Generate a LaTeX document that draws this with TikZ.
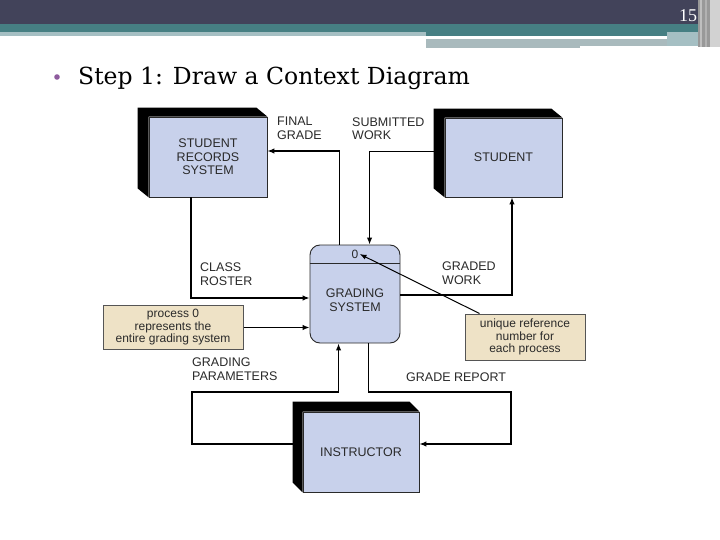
\documentclass[tikz,border=0pt]{standalone}
\usepackage{fontspec}
\setmainfont{Liberation Sans}
\newfontfamily\titlefont{DejaVu Serif}
\newfontfamily\numfont{Liberation Serif}
\usetikzlibrary{arrows.meta}
\definecolor{hdark}{HTML}{42435A}
\definecolor{hteal}{HTML}{467F83}
\definecolor{hlight}{HTML}{A5BFC3}
\definecolor{hgray}{HTML}{A9BABD}
\definecolor{boxfill}{HTML}{C8D1EB}
\definecolor{notefill}{HTML}{EEE2C6}
\definecolor{txt}{HTML}{2A2A2A}
\definecolor{bul}{HTML}{8E5B9E}
\tikzset{
  ebox/.style={draw=txt, line width=0.8pt, fill=boxfill, inner sep=0pt, align=center, text=txt,
    font=\fontsize{12.5}{13.5}\selectfont},
  proc/.style={draw=txt, line width=0.9pt, fill=boxfill, rounded corners=10pt, inner sep=0pt,
    minimum width=90pt, minimum height=98pt},
  note/.style={draw=txt!80, line width=1pt, fill=notefill, inner sep=0pt, align=center, text=txt,
    font=\fontsize{12}{12.5}\selectfont},
  lbl/.style={anchor=west, inner sep=0pt, align=left, text=txt, font=\fontsize{12.5}{13.5}\selectfont},
  arr/.style={draw=black, line width=1.3pt, -{Latex[length=7pt,width=5.5pt]}},
  shade3d/.style={fill=black}
}
\begin{document}
\begin{tikzpicture}[x=1pt,y=-1pt]
\useasboundingbox (0,0) rectangle (720,540);
\fill[white] (0,0) rectangle (720,540);
% header
\fill[hdark] (0,0) rectangle (720,24);
\fill[hteal] (0,24) rectangle (698,32);
\fill[hlight] (0,32) rectangle (426,36);
\fill[hteal] (426,32) rectangle (667,36);
\fill[hgray] (426,39) rectangle (580,48);
\fill[hgray] (580,39) rectangle (667,46);
\fill[hlight] (667,32) rectangle (698,46);
\fill[gray!80] (698,0) rectangle (710,47);
\fill[gray!50] (700,0) rectangle (702,47);
\fill[gray!60] (705,0) rectangle (707,47);
\fill[gray!35] (710,0) rectangle (720,47);
\node[text=white, font=\numfont\fontsize{18}{18}\selectfont] (pnum) at (688,16) {15};
% title
\fill[bul] (57,77) circle (2.8);
\node[anchor=base west, inner sep=0pt, font=\titlefont\fontsize{23.5}{25}\selectfont] (title) at (78,85) {Step 1: Draw a Context Diagram};
% external entities
\node[ebox, minimum width=118pt, minimum height=80pt] (srs) at (208,157) {STUDENT\\RECORDS\\SYSTEM};
\fill[shade3d] ([shift={(-11pt,9pt)}]srs.north west) -- ([shift={(-11pt,9pt)}]srs.north east) -- (srs.north east) -- (srs.north west) -- (srs.south west) -- ([shift={(-11pt,9pt)}]srs.south west) -- cycle;
\node[ebox, minimum width=117pt, minimum height=79pt] (stu) at (503.5,157.5) {STUDENT};
\fill[shade3d] ([shift={(-11pt,9pt)}]stu.north west) -- ([shift={(-11pt,9pt)}]stu.north east) -- (stu.north east) -- (stu.north west) -- (stu.south west) -- ([shift={(-11pt,9pt)}]stu.south west) -- cycle;
\node[ebox, minimum width=116pt, minimum height=80pt] (ins) at (361,452) {INSTRUCTOR};
\fill[shade3d] ([shift={(-10pt,10pt)}]ins.north west) -- ([shift={(-10pt,10pt)}]ins.north east) -- (ins.north east) -- (ins.north west) -- (ins.south west) -- ([shift={(-10pt,10pt)}]ins.south west) -- cycle;
% process
\node[proc] (gs) at (355,294) {};
\draw[txt, line width=0.9pt] ([yshift=-19pt]gs.north west) -- ([yshift=-19pt]gs.north east);
\node[inner sep=1pt, text=txt, font=\fontsize{12}{12}\selectfont] (gsn) at (355,254) {0};
\node[inner sep=0pt, align=center, text=txt, font=\fontsize{12.5}{14}\selectfont] (gst) at (355,300) {GRADING\\SYSTEM};
% notes
\node[note, minimum width=140pt, minimum height=44pt] (note1) at (173,327.5) {process 0\\represents the\\entire grading system};
\node[note, minimum width=120pt, minimum height=46pt] (note2) at (525,337) {unique reference\\number for\\each process};
% helper coordinates
\coordinate (gp) at (192,392);
\coordinate (gr) at (511,392);
% flows
\draw[arr] ([xshift=30pt]gs.north west) |- ([yshift=6pt]srs.east);
\draw[arr] ([xshift=-11pt,yshift=6pt]stu.west) -| ([xshift=60pt]gs.north west);
\draw[arr] ([yshift=-1pt]gs.east) -| ([xshift=8.5pt]stu.south);
\draw[arr] ([xshift=-17pt]srs.south) |- ([yshift=-4pt]gs.west);
\draw[arr] (note1.east) -- (note1.east -| gs.west);
\draw[arr] ([xshift=-10pt,yshift=8pt]ins.west) -| (gp) -| ([xshift=29pt]gs.south west);
\draw[arr] ([xshift=59pt]gs.south west) |- (gr) |- ([yshift=8pt]ins.east);
\draw[line width=1pt, -{Latex[length=7pt,width=5pt]}] ([xshift=15pt]note2.north west) -- (gsn.east);
% labels
\node[lbl] (lfg) at (277,128.5) {FINAL\\GRADE};
\node[lbl] (lsw) at (352,128.5) {SUBMITTED\\WORK};
\node[lbl] (lcr) at (200,274) {CLASS\\ROSTER};
\node[lbl] (lgw) at (442,273) {GRADED\\WORK};
\node[lbl] (lgp) at (192,369) {GRADING\\PARAMETERS};
\node[lbl] (lgr) at (406,377.5) {GRADE REPORT};
\end{tikzpicture}
\end{document}
